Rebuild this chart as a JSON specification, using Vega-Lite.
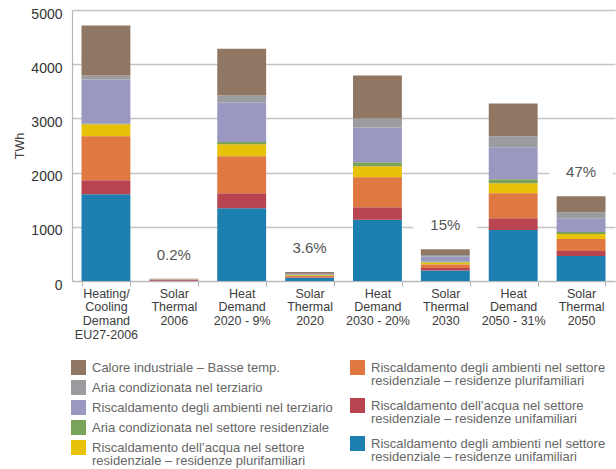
{
  "$schema": "https://vega.github.io/schema/vega-lite/v6.json",
  "width": 543,
  "height": 271,
  "autosize": {"type": "none"},
  "padding": {"left": 72, "top": 10, "right": 1, "bottom": 188},
  "background": "white",
  "config": {"font": "Liberation Sans", "view": {"stroke": null}, "style": {"guide-label": {"lineHeight": 13}}},
  "datasets": {
    "vals": [
      {"c": "Heating/\nCooling\nDemand\nEU27-2006", "s": "a", "v": 1601},
      {"c": "Heating/\nCooling\nDemand\nEU27-2006", "s": "b", "v": 258},
      {"c": "Heating/\nCooling\nDemand\nEU27-2006", "s": "c", "v": 810},
      {"c": "Heating/\nCooling\nDemand\nEU27-2006", "s": "d", "v": 221},
      {"c": "Heating/\nCooling\nDemand\nEU27-2006", "s": "e", "v": 12},
      {"c": "Heating/\nCooling\nDemand\nEU27-2006", "s": "f", "v": 816},
      {"c": "Heating/\nCooling\nDemand\nEU27-2006", "s": "g", "v": 74},
      {"c": "Heating/\nCooling\nDemand\nEU27-2006", "s": "h", "v": 920},
      {"c": "Solar\nThermal\n2006", "s": "a", "v": 4},
      {"c": "Solar\nThermal\n2006", "s": "b", "v": 16},
      {"c": "Solar\nThermal\n2006", "s": "c", "v": 3},
      {"c": "Solar\nThermal\n2006", "s": "d", "v": 1},
      {"c": "Solar\nThermal\n2006", "s": "e", "v": 1},
      {"c": "Solar\nThermal\n2006", "s": "f", "v": 2},
      {"c": "Solar\nThermal\n2006", "s": "g", "v": 3},
      {"c": "Solar\nThermal\n2006", "s": "h", "v": 10},
      {"c": "Heat\nDemand\n2020 - 9%", "s": "a", "v": 1344},
      {"c": "Heat\nDemand\n2020 - 9%", "s": "b", "v": 276},
      {"c": "Heat\nDemand\n2020 - 9%", "s": "c", "v": 681},
      {"c": "Heat\nDemand\n2020 - 9%", "s": "d", "v": 221},
      {"c": "Heat\nDemand\n2020 - 9%", "s": "e", "v": 43},
      {"c": "Heat\nDemand\n2020 - 9%", "s": "f", "v": 730},
      {"c": "Heat\nDemand\n2020 - 9%", "s": "g", "v": 129},
      {"c": "Heat\nDemand\n2020 - 9%", "s": "h", "v": 859},
      {"c": "Solar\nThermal\n2020", "s": "a", "v": 58},
      {"c": "Solar\nThermal\n2020", "s": "b", "v": 13},
      {"c": "Solar\nThermal\n2020", "s": "c", "v": 22},
      {"c": "Solar\nThermal\n2020", "s": "d", "v": 13},
      {"c": "Solar\nThermal\n2020", "s": "e", "v": 4},
      {"c": "Solar\nThermal\n2020", "s": "f", "v": 16},
      {"c": "Solar\nThermal\n2020", "s": "g", "v": 10},
      {"c": "Solar\nThermal\n2020", "s": "h", "v": 29},
      {"c": "Heat\nDemand\n2030 - 20%", "s": "a", "v": 1129},
      {"c": "Heat\nDemand\n2030 - 20%", "s": "b", "v": 233},
      {"c": "Heat\nDemand\n2030 - 20%", "s": "c", "v": 552},
      {"c": "Heat\nDemand\n2030 - 20%", "s": "d", "v": 202},
      {"c": "Heat\nDemand\n2030 - 20%", "s": "e", "v": 74},
      {"c": "Heat\nDemand\n2030 - 20%", "s": "f", "v": 644},
      {"c": "Heat\nDemand\n2030 - 20%", "s": "g", "v": 166},
      {"c": "Heat\nDemand\n2030 - 20%", "s": "h", "v": 791},
      {"c": "Solar\nThermal\n2030", "s": "a", "v": 196},
      {"c": "Solar\nThermal\n2030", "s": "b", "v": 43},
      {"c": "Solar\nThermal\n2030", "s": "c", "v": 67},
      {"c": "Solar\nThermal\n2030", "s": "d", "v": 37},
      {"c": "Solar\nThermal\n2030", "s": "e", "v": 18},
      {"c": "Solar\nThermal\n2030", "s": "f", "v": 86},
      {"c": "Solar\nThermal\n2030", "s": "g", "v": 31},
      {"c": "Solar\nThermal\n2030", "s": "h", "v": 110},
      {"c": "Heat\nDemand\n2050 - 31%", "s": "a", "v": 939},
      {"c": "Heat\nDemand\n2050 - 31%", "s": "b", "v": 221},
      {"c": "Heat\nDemand\n2050 - 31%", "s": "c", "v": 460},
      {"c": "Heat\nDemand\n2050 - 31%", "s": "d", "v": 184},
      {"c": "Heat\nDemand\n2050 - 31%", "s": "e", "v": 74},
      {"c": "Heat\nDemand\n2050 - 31%", "s": "f", "v": 589},
      {"c": "Heat\nDemand\n2050 - 31%", "s": "g", "v": 202},
      {"c": "Heat\nDemand\n2050 - 31%", "s": "h", "v": 607},
      {"c": "Solar\nThermal\n2050", "s": "a", "v": 460},
      {"c": "Solar\nThermal\n2050", "s": "b", "v": 92},
      {"c": "Solar\nThermal\n2050", "s": "c", "v": 221},
      {"c": "Solar\nThermal\n2050", "s": "d", "v": 92},
      {"c": "Solar\nThermal\n2050", "s": "e", "v": 37},
      {"c": "Solar\nThermal\n2050", "s": "f", "v": 258},
      {"c": "Solar\nThermal\n2050", "s": "g", "v": 110},
      {"c": "Solar\nThermal\n2050", "s": "h", "v": 294}
    ],
    "series": [
      {"s": "a", "name": "Riscaldamento degli ambienti nel settore residenziale – residenze unifamiliari"},
      {"s": "b", "name": "Riscaldamento dell’acqua nel settore residenziale – residenze unifamiliari"},
      {"s": "c", "name": "Riscaldamento degli ambienti nel settore residenziale – residenze plurifamiliari"},
      {"s": "d", "name": "Riscaldamento dell’acqua nel settore residenziale – residenze plurifamiliari"},
      {"s": "e", "name": "Aria condizionata nel settore residenziale"},
      {"s": "f", "name": "Riscaldamento degli ambienti nel terziario"},
      {"s": "g", "name": "Aria condizionata nel terziario"},
      {"s": "h", "name": "Calore industriale – Basse temp."}
    ],
    "pcts": [
      {"c": "Solar\nThermal\n2006", "pct": "0.2%"},
      {"c": "Solar\nThermal\n2020", "pct": "3.6%"},
      {"c": "Solar\nThermal\n2030", "pct": "15%"},
      {"c": "Solar\nThermal\n2050", "pct": "47%"}
    ]
  },
  "data": {"name": "vals"},
  "transform": [
    {"lookup": "s", "from": {"data": {"name": "series"}, "key": "s", "fields": ["name"]}},
    {"stack": "v", "groupby": ["c"], "sort": [{"field": "s", "order": "ascending"}], "as": ["v0", "v1"]}
  ],
  "encoding": {
    "x": {
      "field": "c",
      "type": "nominal",
      "scale": {
        "domain": ["Heating/\nCooling\nDemand\nEU27-2006", "Solar\nThermal\n2006", "Heat\nDemand\n2020 - 9%", "Solar\nThermal\n2020", "Heat\nDemand\n2030 - 20%", "Solar\nThermal\n2030", "Heat\nDemand\n2050 - 31%", "Solar\nThermal\n2050"],
        "paddingInner": 0.28,
        "paddingOuter": 0.14
      },
      "axis": {
        "title": null,
        "labelAngle": 0,
        "labelExpr": "split(datum.label, '\\n')",
        "labelFontSize": 12.5,
        "labelColor": "#3c3c3c",
        "labelLineHeight": 13.8,
        "labelBaseline": "top",
        "labelPadding": 1,
        "labelLimit": 200,
        "tickBand": "extent",
        "tickSize": 5,
        "tickColor": "#b8b8b8",
        "tickWidth": 1.2,
        "domainColor": "#b8b8b8",
        "domainWidth": 1.2,
        "grid": false
      }
    }
  },
  "layer": [
    {
      "transform": [{"filter": {"field": "s", "oneOf": ["d", "e", "f", "g", "h"]}}],
      "mark": {"type": "bar"},
      "encoding": {
        "y": {
          "field": "v0",
          "type": "quantitative",
          "scale": {"domain": [0, 5000]},
          "axis": {
            "title": "TWh",
            "format": "d",
            "titleFontSize": 12.5,
            "titleFontWeight": "normal",
            "titleColor": "#444",
            "titlePadding": 4,
            "values": [0, 1000, 2000, 3000, 4000, 5000],
            "labelFontSize": 14,
            "labelColor": "#333",
            "labelPadding": 10,
            "labelOffset": 4,
            "ticks": false,
            "domainColor": "#b8b8b8",
            "domainWidth": 1.2,
            "gridColor": "#c4c4c4",
            "gridWidth": 1.3
          }
        },
        "y2": {"field": "v1"},
        "color": {
          "field": "name",
          "type": "nominal",
          "scale": {
            "domain": ["Calore industriale – Basse temp.", "Aria condizionata nel terziario", "Riscaldamento degli ambienti nel terziario", "Aria condizionata nel settore residenziale", "Riscaldamento dell’acqua nel settore residenziale – residenze plurifamiliari"],
            "range": ["#8f7763", "#9a9c9f", "#9a97c0", "#79a35a", "#e8c109"]
          },
          "legend": {
            "orient": "none",
            "legendX": -1,
            "legendY": 350,
            "title": null,
            "padding": 0,
            "symbolType": "square",
            "symbolSize": 225,
            "symbolStrokeWidth": 0,
            "symbolOpacity": 1,
            "labelFontSize": 13,
            "labelColor": "#666",
            "labelLimit": 400,
            "labelOffset": 6,
            "rowPadding": 5,
            "labelExpr": "split(replace(datum.label, ' settore residenziale –', ' settore\\nresidenziale –'), '\\n')"
          }
        }
      }
    },
    {
      "transform": [{"filter": {"field": "s", "oneOf": ["a", "b", "c"]}}],
      "mark": {"type": "bar"},
      "encoding": {
        "y": {"field": "v0", "type": "quantitative", "title": "TWh"},
        "y2": {"field": "v1"},
        "color": {
          "field": "name",
          "type": "nominal",
          "scale": {
            "domain": ["Riscaldamento degli ambienti nel settore residenziale – residenze plurifamiliari", "Riscaldamento dell’acqua nel settore residenziale – residenze unifamiliari", "Riscaldamento degli ambienti nel settore residenziale – residenze unifamiliari"],
            "range": ["#df7841", "#b7444e", "#1d7eb0"]
          },
          "legend": {
            "orient": "none",
            "legendX": 278,
            "legendY": 350,
            "title": null,
            "padding": 0,
            "symbolType": "square",
            "symbolSize": 225,
            "symbolStrokeWidth": 0,
            "symbolOpacity": 1,
            "labelFontSize": 13,
            "labelColor": "#666",
            "labelLimit": 400,
            "labelOffset": 6,
            "rowPadding": 10,
            "labelExpr": "split(replace(datum.label, ' settore residenziale –', ' settore\\nresidenziale –'), '\\n')"
          }
        }
      }
    },
    {
      "transform": [
        {"aggregate": [{"op": "sum", "field": "v", "as": "tot"}], "groupby": ["c"]},
        {"lookup": "c", "from": {"data": {"name": "pcts"}, "key": "c", "fields": ["pct"]}},
        {"filter": "datum.pct != null"}
      ],
      "mark": {"type": "tick", "color": "white", "opacity": 1, "size": 64, "thickness": 16, "yOffset": -24},
      "encoding": {
        "y": {"field": "tot", "type": "quantitative", "title": "TWh"}
      }
    },
    {
      "transform": [
        {"aggregate": [{"op": "sum", "field": "v", "as": "tot"}], "groupby": ["c"]},
        {"lookup": "c", "from": {"data": {"name": "pcts"}, "key": "c", "fields": ["pct"]}},
        {"filter": "datum.pct != null"}
      ],
      "mark": {"type": "text", "fontSize": 15, "color": "#555", "dy": -24, "baseline": "middle", "align": "center"},
      "encoding": {
        "y": {"field": "tot", "type": "quantitative", "title": "TWh"},
        "text": {"field": "pct"}
      }
    }
  ],
  "resolve": {"scale": {"color": "independent"}}
}
